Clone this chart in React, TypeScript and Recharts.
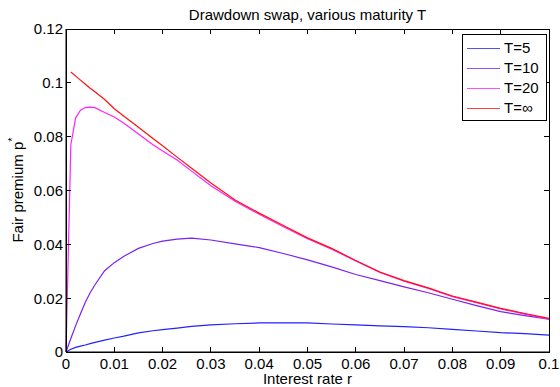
import React from 'react'
import {
  LineChart,
  Line,
  XAxis,
  YAxis,
  Legend,
  Label,
} from 'recharts'

// interest rate grid
const rates = [
  0, 0.001, 0.002, 0.003, 0.004, 0.005, 0.006, 0.008, 0.01, 0.012, 0.015, 0.018,
  0.02, 0.023, 0.026, 0.03, 0.035, 0.04, 0.045, 0.05, 0.055, 0.06, 0.065, 0.07,
  0.075, 0.08, 0.085, 0.09, 0.095, 0.1,
]

const premiumT5 = [
  0, 0.001, 0.0017, 0.0022, 0.0026, 0.0031, 0.0036, 0.0044, 0.0052, 0.0059, 0.0071,
  0.0079, 0.0083, 0.0089, 0.0095, 0.0101, 0.0105, 0.0108, 0.0108, 0.0108, 0.0104,
  0.0101, 0.0097, 0.0094, 0.009, 0.0084, 0.0078, 0.0072, 0.0068, 0.0063,
]

const premiumT10 = [
  0, 0.005, 0.0098, 0.0142, 0.0185, 0.022, 0.025, 0.0302, 0.0332, 0.0356, 0.0385,
  0.0403, 0.0412, 0.0419, 0.0423, 0.0416, 0.0402, 0.0388, 0.0366, 0.0342, 0.0316,
  0.0288, 0.0265, 0.0242, 0.022, 0.0196, 0.0172, 0.015, 0.0135, 0.0122,
]

const premiumT20 = [
  0, 0.077, 0.087, 0.0898, 0.0908, 0.091, 0.0908, 0.089, 0.0873, 0.085, 0.081,
  0.077, 0.0747, 0.0713, 0.0672, 0.0618, 0.056, 0.0512, 0.0465, 0.0421, 0.0382,
  0.0338, 0.0296, 0.0263, 0.0236, 0.0206, 0.0183, 0.016, 0.0141, 0.0122,
]

const premiumTInf = [
  null, 0.104, 0.1025, 0.101, 0.0995, 0.098, 0.0967, 0.0938, 0.0904, 0.0876, 0.0835,
  0.0793, 0.0766, 0.0724, 0.0683, 0.0628, 0.0565, 0.0516, 0.047, 0.0424, 0.0385,
  0.034, 0.0297, 0.0265, 0.0238, 0.0208, 0.0185, 0.0162, 0.0143, 0.0125,
]

const xTicks = [0, 0.01, 0.02, 0.03, 0.04, 0.05, 0.06, 0.07, 0.08, 0.09, 0.1]
const yTicks = [0, 0.02, 0.04, 0.06, 0.08, 0.1, 0.12]

const series = [
  { key: 't5', name: 'T=5', color: '#2222ff' },
  { key: 't10', name: 'T=10', color: '#7a22ee' },
  { key: 't20', name: 'T=20', color: '#ff22ff' },
  { key: 'tinf', name: 'T=\u221e', color: '#ff1010' },
]

const data = rates.map((r, i) => ({
  r,
  t5: premiumT5[i],
  t10: premiumT10[i],
  t20: premiumT20[i],
  tinf: premiumTInf[i],
}))

const X_MAX = 0.1
const Y_MAX = 0.12
const WIDTH = 560
const HEIGHT = 387
const MARGIN = { top: 29, right: 11, bottom: 0, left: 0 }

const font = '"Liberation Sans", Arial, Helvetica, sans-serif'
const textStyle = { fontSize: 15, fill: '#000', fontFamily: font }

function XTick(props: any) {
  const { x, y, payload } = props
  return (
    <text x={x} y={y} dy="0.71em" textAnchor="middle" fontSize={15} fontFamily={font} fill="#000">
      {String(payload.value)}
    </text>
  )
}

function YTick(props: any) {
  const { x, y, payload } = props
  return (
    <text x={x} y={y} dy="0.36em" textAnchor="end" fontSize={15} fontFamily={font} fill="#000">
      {String(payload.value)}
    </text>
  )
}

function LegendBox() {
  return (
    <div
      style={{
        border: '1px solid #000',
        background: '#fff',
        boxSizing: 'border-box',
        width: 85,
        height: 87,
        padding: '3px 0',
        fontFamily: font,
        fontSize: 15,
        color: '#000',
      }}
    >
      {series.map((s) => (
        <div key={s.key} style={{ display: 'flex', alignItems: 'center', height: 20 }}>
          <div style={{ width: 33, height: 0, borderTop: `1.5px solid ${s.color}`, marginLeft: 4, opacity: 0.8 }} />
          <span style={{ marginLeft: 4, lineHeight: '20px' }}>{s.name}</span>
        </div>
      ))}
    </div>
  )
}

// title, y label and the matlab style box with inward ticks.
// drawn from the y axis label since that one gets rendered
function Decor(props: any) {
  const vb = props.viewBox || { x: 0, y: MARGIN.top, width: 66, height: HEIGHT - MARGIN.top - 35 }
  const left = vb.x + vb.width
  const right = WIDTH - MARGIN.right
  const top = vb.y
  const bottom = vb.y + vb.height
  const px = (t: number) => left + (t / X_MAX) * (right - left)
  const py = (t: number) => bottom - (t / Y_MAX) * (bottom - top)
  return (
    <g>
      <g stroke="#000" strokeWidth={1} fill="none" shapeRendering="crispEdges">
        <rect x={left} y={top} width={right - left} height={bottom - top} />
        {xTicks.map((t) => (
          <g key={`x${t}`}>
            <line x1={px(t)} x2={px(t)} y1={bottom} y2={bottom - 5} />
            <line x1={px(t)} x2={px(t)} y1={top} y2={top + 5} />
          </g>
        ))}
        {yTicks.map((t) => (
          <g key={`y${t}`}>
            <line x1={left} x2={left + 5} y1={py(t)} y2={py(t)} />
            <line x1={right} x2={right - 5} y1={py(t)} y2={py(t)} />
          </g>
        ))}
      </g>
      <text x={(left + right) / 2} y={20} textAnchor="middle" fontSize={15} fontFamily={font} fill="#000">
        Drawdown swap, various maturity T
      </text>
      <text
        x={23}
        y={190}
        transform="rotate(-90, 23, 190)"
        textAnchor="middle"
        fontSize={15}
        fontFamily={font}
        fill="#000"
      >
        Fair premium p
        <tspan dy={-7} fontSize={11}>*</tspan>
      </text>
    </g>
  )
}

export default function App() {
  return (
    <div style={{ position: 'absolute', left: 0, top: 0, background: '#fff' }}>
      <LineChart width={WIDTH} height={HEIGHT} data={data} margin={MARGIN}>
        <XAxis
          dataKey="r"
          type="number"
          domain={[0, X_MAX]}
          ticks={xTicks}
          tick={<XTick />}
          tickLine={false}
          tickSize={0}
          tickMargin={6}
          height={35}
          stroke="#000"
          interval={0}
        >
          <Label
            value="Interest rate r"
            position="insideBottom"
            offset={3}
            style={textStyle}
          />
        </XAxis>
        <YAxis
          type="number"
          domain={[0, Y_MAX]}
          ticks={yTicks}
          tick={<YTick />}
          tickLine={false}
          tickSize={0}
          tickMargin={3}
          width={66}
          stroke="#000"
          interval={0}
        >
          <Label content={(p: any) => <Decor {...p} />} />
        </YAxis>
        <Legend
          layout="horizontal"
          verticalAlign="middle"
          content={() => <LegendBox />}
          wrapperStyle={{ left: 462, top: 34, width: 85, height: 87 }}
        />
        {series.map((s) => (
          <Line
            key={s.key}
            dataKey={s.key}
            name={s.name}
            stroke={s.color}
            strokeWidth={1.2}
            dot={false}
            type="linear"
            connectNulls={false}
            isAnimationActive={false}
          />
        ))}
      </LineChart>
    </div>
  )
}
